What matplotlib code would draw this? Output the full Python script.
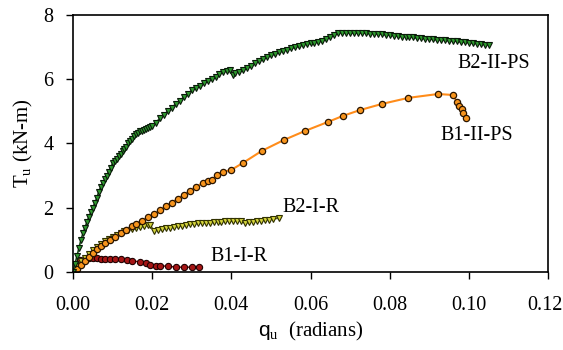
import matplotlib
matplotlib.use("Agg")
import matplotlib.pyplot as plt
from matplotlib.transforms import ScaledTranslation

plt.rcParams['font.family'] = ['Liberation Serif', 'DejaVu Serif']
plt.rcParams['mathtext.fontset'] = 'custom'
plt.rcParams['mathtext.rm'] = 'Liberation Serif'
plt.rcParams['mathtext.sf'] = 'Liberation Sans'

# B2-II-PS
x_b2ps = [0, 0.0005, 0.001, 0.0015, 0.002, 0.0025, 0.003, 0.0035, 0.004, 0.0045,
          0.005, 0.0055, 0.006, 0.0065, 0.007, 0.0075, 0.008, 0.0085, 0.009, 0.0095,
          0.010, 0.0105, 0.011, 0.0115, 0.012, 0.0125, 0.013, 0.0135, 0.014, 0.0145,
          0.015, 0.0155, 0.016, 0.0165, 0.017, 0.0175, 0.018, 0.0185, 0.019, 0.0195,
          0.020, 0.021, 0.022, 0.023, 0.024, 0.025, 0.026, 0.027, 0.028, 0.029,
          0.030, 0.031, 0.032, 0.033, 0.034, 0.035, 0.036, 0.037, 0.038, 0.039,
          0.0397, 0.0405, 0.041, 0.042, 0.043, 0.044, 0.045, 0.046, 0.047, 0.048,
          0.049, 0.050, 0.051, 0.052, 0.053, 0.054, 0.055, 0.056, 0.057, 0.058,
          0.059, 0.060, 0.061, 0.062, 0.063, 0.064, 0.065, 0.066, 0.067, 0.068,
          0.069, 0.070, 0.071, 0.072, 0.073, 0.074, 0.075, 0.076, 0.077, 0.078,
          0.079, 0.080, 0.081, 0.082, 0.083, 0.084, 0.085, 0.086, 0.087, 0.088,
          0.089, 0.090, 0.091, 0.092, 0.093, 0.094, 0.095, 0.096, 0.097, 0.098,
          0.099, 0.100, 0.101, 0.102, 0.103, 0.104, 0.105]
y_b2ps = [0.0, 0.25, 0.5, 0.75, 1.0, 1.2, 1.38, 1.55, 1.72, 1.86,
          2.0, 2.15, 2.3, 2.5, 2.65, 2.78, 2.88, 3.0, 3.12, 3.25,
          3.38, 3.45, 3.52, 3.6, 3.68, 3.76, 3.82, 3.9, 4.0, 4.08,
          4.15, 4.22, 4.28, 4.33, 4.38, 4.4, 4.43, 4.45, 4.47, 4.5,
          4.55, 4.65, 4.8, 4.9, 5.02, 5.12, 5.24, 5.33, 5.45, 5.55,
          5.66, 5.73, 5.8, 5.88, 5.95, 6.0, 6.08, 6.17, 6.22, 6.27,
          6.3, 6.14, 6.2, 6.24, 6.3, 6.35, 6.42, 6.5, 6.58, 6.63,
          6.68, 6.74, 6.79, 6.84, 6.88, 6.92, 6.96, 6.99, 7.02, 7.07,
          7.1, 7.12, 7.14, 7.16, 7.2, 7.26, 7.33, 7.39, 7.43, 7.45,
          7.44, 7.44, 7.43, 7.44, 7.44, 7.43, 7.42, 7.42, 7.41, 7.4,
          7.38, 7.37, 7.36, 7.35, 7.33, 7.32, 7.31, 7.3, 7.28, 7.27,
          7.26, 7.25, 7.24, 7.23, 7.22, 7.21, 7.2, 7.19, 7.18, 7.16,
          7.15, 7.14, 7.12, 7.11, 7.1, 7.08, 7.07]

# B1-II-PS
x_b1ps = [0, 0.001, 0.002, 0.003, 0.004, 0.005, 0.006, 0.007, 0.008, 0.0093,
          0.0105, 0.012, 0.0135, 0.015, 0.016, 0.0175, 0.019, 0.0205, 0.022, 0.0235,
          0.025, 0.0265, 0.028, 0.0295, 0.031, 0.0328, 0.034, 0.0351, 0.0364, 0.038,
          0.040, 0.043, 0.0477, 0.0533, 0.0586, 0.0644, 0.0682, 0.0725, 0.078, 0.0847,
          0.0922, 0.096, 0.097, 0.0975, 0.0982, 0.0986, 0.0993]
y_b1ps = [0, 0.1, 0.22, 0.34, 0.47, 0.58, 0.7, 0.8, 0.9, 1.0,
          1.08, 1.2, 1.3, 1.42, 1.5, 1.6, 1.7, 1.8, 1.92, 2.04,
          2.16, 2.28, 2.4, 2.52, 2.64, 2.77, 2.83, 2.87, 3.02, 3.12,
          3.18, 3.4, 3.77, 4.11, 4.39, 4.67, 4.86, 5.04, 5.23, 5.42,
          5.54, 5.51, 5.29, 5.17, 5.08, 4.95, 4.8]

# B2-I-R
x_b2r = [0, 0.001, 0.002, 0.003, 0.004, 0.005, 0.006, 0.007, 0.008, 0.009,
         0.010, 0.011, 0.012, 0.013, 0.014, 0.015, 0.016, 0.017, 0.018, 0.019,
         0.0195, 0.0205, 0.0215, 0.0225, 0.0235, 0.0245, 0.0255, 0.0265, 0.0275, 0.0285,
         0.0295, 0.0305, 0.0315, 0.0325, 0.0335, 0.0345, 0.0355, 0.0365, 0.0375, 0.0385,
         0.0395, 0.0405, 0.0415, 0.0425, 0.0435, 0.0445, 0.0455, 0.0465, 0.0475, 0.0485,
         0.0495, 0.0505, 0.052]
y_b2r = [0, 0.18, 0.33, 0.45, 0.57, 0.69, 0.78, 0.87, 0.95, 1.02,
         1.09, 1.15, 1.22, 1.27, 1.31, 1.35, 1.38, 1.4, 1.43, 1.45,
         1.47, 1.28, 1.31, 1.33, 1.36, 1.37, 1.4, 1.42, 1.43, 1.46,
         1.48, 1.5, 1.51, 1.52, 1.53, 1.54, 1.55, 1.56, 1.57, 1.58,
         1.58, 1.58, 1.59, 1.58, 1.51, 1.55, 1.57, 1.58, 1.6, 1.61,
         1.63, 1.65, 1.67]

# B1-I-R
x_b1r = [0, 0.001, 0.0018, 0.003, 0.004, 0.005, 0.006, 0.007, 0.008, 0.0093,
         0.0105, 0.012, 0.0136, 0.015, 0.017, 0.0185, 0.0195, 0.021, 0.022, 0.024,
         0.026, 0.028, 0.030, 0.0318]
y_b1r = [0, 0.25, 0.37, 0.4, 0.42, 0.42, 0.42, 0.41, 0.4, 0.4,
         0.4, 0.39, 0.37, 0.35, 0.31, 0.27, 0.22, 0.2, 0.19, 0.18,
         0.15, 0.15, 0.15, 0.16]

x_ticks = [0, 0.02, 0.04, 0.06, 0.08, 0.10, 0.12]
x_ticklabels = ['0.00', '0.02', '0.04', '0.06', '0.08', '0.10', '0.12']
y_ticks = [0, 2, 4, 6, 8]

fig = plt.figure(figsize=(5.63, 3.5), dpi=100)
ax = fig.add_axes([0.1297, 0.2229, 0.8437, 0.7343])

ax.plot(x_b1r, y_b1r, '-o', color='#7a0000', lw=1, ms=4.5,
        mfc='#a51515', mec='#200000', mew=0.8)
ax.plot(x_b2r, y_b2r, '-v', color='#6b6b10', lw=1, ms=4,
        mfc='#d4d43c', mec='#303000', mew=0.8)
ax.plot(x_b1ps, y_b1ps, '-o', color='#ff8c1a', lw=1.5, ms=4.5,
        mfc='#f7941d', mec='#2a1500', mew=0.9)
ax.plot(x_b2ps, y_b2ps, '-v', color='#1b4d1b', lw=1.2, ms=4,
        mfc='#2e9a2e', mec='#0a1a0a', mew=0.8)

ax.text(0.1155, 6.5, 'B2-II-PS', fontsize=14.5, ha='right', va='center')
ax.text(0.1112, 4.24, 'B1-II-PS', fontsize=14.5, ha='right', va='center')
ax.text(0.0528, 2.0, 'B2-I-R', fontsize=14.5, ha='left', va='center')
ax.text(0.0346, 0.47, 'B1-I-R', fontsize=14.5, ha='left', va='center')

ax.set_xlim(0, 0.12)
ax.set_ylim(0, 8)
ax.set_xticks(x_ticks)
ax.set_xticklabels(x_ticklabels)
ax.set_yticks(y_ticks)
ax.tick_params(direction='out', length=5, width=1, labelsize=14.5)
ax.tick_params(axis='x', pad=12)
ax.tick_params(axis='y', pad=9)
for s in ax.spines.values():
    s.set_linewidth(1.2)

# nudge the last x label left so it stays inside the figure
last = ax.get_xticklabels()[-1]
last.set_transform(last.get_transform() + ScaledTranslation(-0.035, 0, fig.dpi_scale_trans))

ax.set_xlabel(r'$\mathsf{q}_{\mathrm{u}}$  (radians)', fontsize=15, labelpad=4)
ax.set_ylabel(r'T$_{\mathrm{u}}$ (kN-m)', fontsize=15, labelpad=6)

fig.savefig('out.png', dpi=100)
